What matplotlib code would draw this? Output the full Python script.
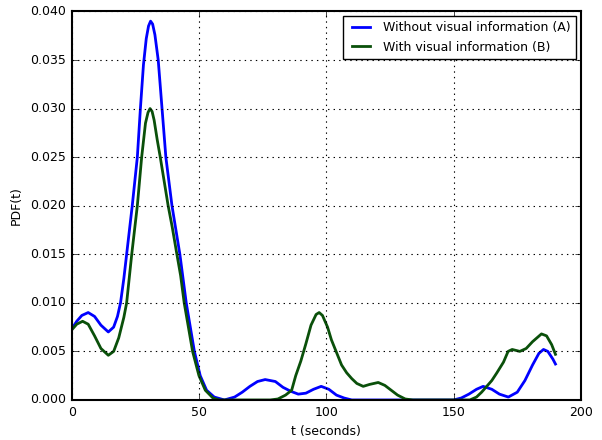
import matplotlib
matplotlib.use('Agg')
import matplotlib.pyplot as plt

# Without visual information (A)
t_a = [0, 2, 4, 6.5, 9, 11.5, 14.4, 16.5, 18, 19.2, 20.5, 21.6, 23.8, 25.8,
       27, 28.2, 29.3, 30.2, 31, 31.8, 32.7, 34, 35.5, 37, 39.4, 42.5, 45,
       48.2, 50.5, 53, 56, 60, 64, 67, 70, 73, 76, 80, 83, 86, 89, 92, 95,
       98, 101, 104, 107, 110, 150, 153, 156, 159, 161.6, 165, 168, 171.5,
       175, 178, 181, 183.5, 185.3, 187, 189, 190]
pdf_a = [0.0073, 0.0081, 0.0087, 0.0090, 0.0086, 0.0077, 0.0070, 0.0075,
         0.0086, 0.0100, 0.0125, 0.0150, 0.0200, 0.0250, 0.0300, 0.0345,
         0.0372, 0.0385, 0.0390, 0.0387, 0.0376, 0.0350, 0.0300, 0.0250,
         0.0200, 0.0150, 0.0100, 0.0050, 0.0025, 0.0010, 0.0003, 0.0000,
         0.0003, 0.0008, 0.0014, 0.0019, 0.0021, 0.0019, 0.0013, 0.0009,
         0.0006, 0.0007, 0.0011, 0.0014, 0.0011, 0.0005, 0.0002, 0.0000,
         0.0000, 0.0002, 0.0006, 0.0011, 0.0014, 0.0011, 0.0006, 0.0003,
         0.0008, 0.0020, 0.0036, 0.0048, 0.0052, 0.0050, 0.0042, 0.0037]

# With visual information (B)
t_b = [0, 2, 4.3, 6.5, 9, 11.5, 14.4, 16.5, 18.5, 20.5, 21.6, 23.6, 25.8,
       27.5, 29, 30, 30.8, 31.6, 32.4, 33.6, 34.8, 37.9, 39.5, 41.2, 42.8,
       44.2, 47.5, 50, 52.5, 55.5, 58, 78, 81, 84, 86.4, 88, 90, 92, 94, 96,
       97.2, 98.5, 100.5, 102, 104, 106, 108, 110, 112, 114.5, 117, 120.4,
       123, 125.5, 128, 131, 134, 156.4, 159, 161, 163, 165, 167, 169.6,
       171.4, 173, 176, 178.5, 181, 184.5, 186.5, 188.5, 190]
pdf_b = [0.0072, 0.0078, 0.0081, 0.0078, 0.0066, 0.0053, 0.0046, 0.0050,
         0.0064, 0.0085, 0.0100, 0.0150, 0.0200, 0.0250, 0.0285, 0.0296,
         0.0300, 0.0297, 0.0288, 0.0268, 0.0250, 0.0200, 0.0178, 0.0152,
         0.0128, 0.0100, 0.0050, 0.0025, 0.0010, 0.0002, 0.0000, 0.0000,
         0.0001, 0.0005, 0.0010, 0.0025, 0.0040, 0.0058, 0.0077, 0.0088,
         0.0090, 0.0087, 0.0075, 0.0062, 0.0049, 0.0036, 0.0028, 0.0022,
         0.0017, 0.0014, 0.0016, 0.0018, 0.0015, 0.0010, 0.0005, 0.0001,
         0.0000, 0.0000, 0.0003, 0.0008, 0.0014, 0.0020, 0.0028, 0.0039,
         0.0050, 0.0052, 0.0050, 0.0053, 0.0060, 0.0068, 0.0066, 0.0057,
         0.0047]

plt.style.use('classic')
plt.rcParams['font.family'] = ['DejaVu Sans']
plt.rcParams['font.size'] = 9

fig = plt.figure(figsize=(6.02, 4.40), dpi=100, facecolor='white')
ax = fig.add_axes([0.119, 0.091, 0.846, 0.883])

ax.plot(t_a, pdf_a, color='#0000ff', lw=2, label='Without visual information (A)')
ax.plot(t_b, pdf_b, color='#0a500a', lw=2, label='With visual information (B)')

ax.set_xlim(0, 200)
ax.set_ylim(0, 0.040)
ax.set_xticks([0, 50, 100, 150, 200])
ax.set_yticks([0.000, 0.005, 0.010, 0.015, 0.020, 0.025, 0.030, 0.035, 0.040])
ax.yaxis.set_major_formatter(matplotlib.ticker.FormatStrFormatter('%.3f'))
ax.tick_params(labelsize=9)
ax.grid(True, linestyle=':', color='k', linewidth=0.8)
ax.set_xlabel('t (seconds)', fontsize=9)
ax.set_ylabel('PDF(t)', fontsize=9)
for s in ax.spines.values():
    s.set_linewidth(1.5)

ax.legend(loc='upper right', fontsize=9, handlelength=2, borderaxespad=0.4)

fig.savefig('out.png', dpi=100, facecolor='white')
